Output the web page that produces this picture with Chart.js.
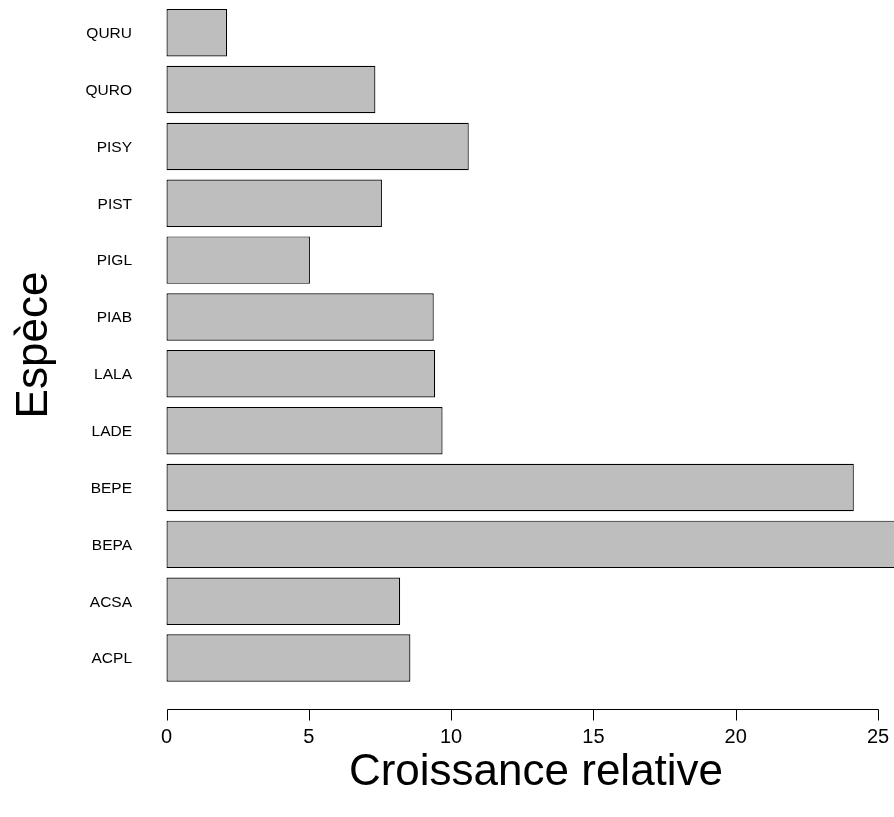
<!DOCTYPE html>
<html>
<head>
<meta charset="utf-8">
<script src="https://cdn.jsdelivr.net/npm/chart.js@4"></script>
<style>
html,body{margin:0;padding:0;background:#fff;}
#c{display:block;}
</style>
</head>
<body>
<canvas id="c" width="894" height="817"></canvas>
<script>
const categories = ["QURU","QURO","PISY","PIST","PIGL","PIAB","LALA","LADE","BEPE","BEPA","ACSA","ACPL"];
const growth = [2.13, 7.34, 10.62, 7.57, 5.04, 9.39, 9.44, 9.70, 24.15, 27.0, 8.21, 8.57];
const xTicks = [0, 5, 10, 15, 20, 25];
const xTitle = "Croissance relative";
const yTitle = "Espèce";

const FONT = "'Liberation Sans', Arial, Helvetica, sans-serif";

const customAxes = {
  id: 'customAxes',
  afterDraw(chart) {
    const ctx = chart.ctx;
    const xs = chart.scales.x, ys = chart.scales.y;
    ctx.save();
    ctx.fillStyle = '#000';
    ctx.strokeStyle = '#000';
    ctx.lineWidth = 1;
    // category labels
    ctx.font = '15.5px ' + FONT;
    ctx.textAlign = 'right';
    ctx.textBaseline = 'middle';
    categories.forEach((c, i) => {
      ctx.fillText(c, 132, ys.getPixelForValue(i) + 1);
    });
    // x axis
    const ay = 709.5;
    const x0 = xs.getPixelForValue(xTicks[0]);
    const x1 = xs.getPixelForValue(xTicks[xTicks.length - 1]);
    ctx.beginPath();
    ctx.moveTo(Math.round(x0) + 0.5, ay);
    ctx.lineTo(Math.round(x1) + 0.5, ay);
    xTicks.forEach(t => {
      const px = Math.round(xs.getPixelForValue(t)) + 0.5;
      ctx.moveTo(px, ay);
      ctx.lineTo(px, ay + 11);
    });
    ctx.stroke();
    ctx.font = '20px ' + FONT;
    ctx.textAlign = 'center';
    ctx.textBaseline = 'alphabetic';
    xTicks.forEach(t => {
      ctx.fillText(String(t), xs.getPixelForValue(t), 743);
    });
    // axis titles
    ctx.font = '44px ' + FONT;
    ctx.fillText(xTitle, 536, 785);
    ctx.save();
    ctx.translate(47, 345);
    ctx.rotate(-Math.PI / 2);
    ctx.fillText(yTitle, 0, 0);
    ctx.restore();
    ctx.restore();
  }
};

new Chart(document.getElementById('c'), {
  type: 'bar',
  data: {
    labels: categories,
    datasets: [{
      data: growth,
      backgroundColor: '#bebebe',
      borderColor: '#000000',
      borderWidth: 1.2,
      borderSkipped: false,
      barPercentage: 0.834,
      categoryPercentage: 1.0,
      clip: false
    }]
  },
  options: {
    indexAxis: 'y',
    responsive: false,
    animation: false,
    events: [],
    layout: { padding: { left: 166.5, right: 16, top: 4.3, bottom: 130.5 } },
    plugins: { legend: { display: false }, tooltip: { enabled: false }, title: { display: false } },
    scales: {
      x: { type: 'linear', min: 0, max: 25, display: false },
      y: { type: 'category', display: false, offset: true }
    }
  },
  plugins: [customAxes]
});
</script>
</body>
</html>
